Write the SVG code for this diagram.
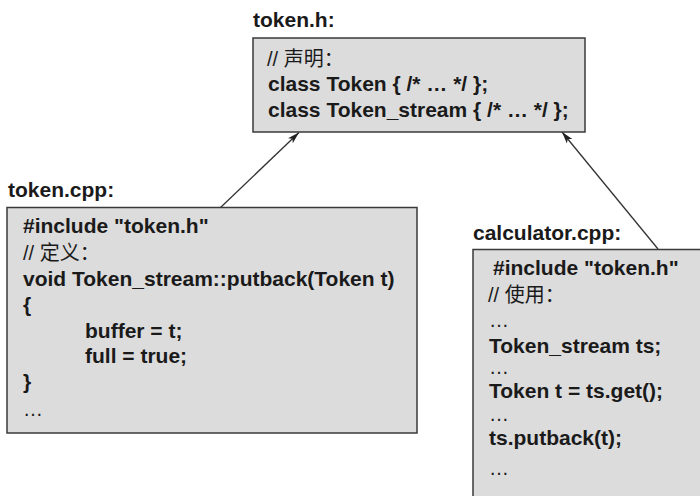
<svg xmlns="http://www.w3.org/2000/svg" width="700" height="496" viewBox="0 0 700 496">
<style>
.box{fill:#dcdcdc;stroke:#3a3a3a;stroke-width:1.5}
.lbl{font-family:"Liberation Sans","Noto Sans CJK SC",sans-serif;font-size:21px;font-weight:bold;fill:#1a1a1a}
.code{font-family:"Liberation Sans","Noto Sans CJK SC",sans-serif;font-size:21px;font-weight:bold;fill:#1a1a1a}
.cmt{font-family:"Liberation Sans","Noto Sans CJK SC",sans-serif;font-size:20px;font-weight:normal;fill:#1a1a1a}
.conn{stroke:#333;stroke-width:1.3;fill:none;marker-end:url(#ah)}
</style>
<defs>
<marker id="ah" viewBox="0 0 12 8" refX="12" refY="4" markerWidth="12" markerHeight="8" markerUnits="userSpaceOnUse" orient="auto">
<path d="M0,0.5 L12,4 L0,7.5 L3,4 Z" fill="#222"/>
</marker>
</defs>
<rect width="700" height="496" fill="#ffffff"/>
<g id="connectors">
<line class="conn" x1="220" y1="208" x2="299" y2="132.5"/>
<line class="conn" x1="658" y1="249" x2="562" y2="132"/>
</g>
<g id="token_h">
<text class="lbl" x="253" y="27">token.h:</text>
<rect class="box" x="253" y="38" width="332" height="94"/>
<text class="cmt" x="267" y="66">// 声明：</text>
<text class="code" x="268" y="91">class Token { /* … */ };</text>
<text class="code" x="268" y="117">class Token_stream { /* … */ };</text>
</g>
<g id="token_cpp">
<text class="lbl" x="8" y="197">token.cpp:</text>
<rect class="box" x="7" y="207.5" width="410" height="225.5"/>
<text class="code" x="23" y="233">#include "token.h"</text>
<text class="cmt" x="23" y="260">// 定义：</text>
<text class="code" x="23" y="286">void Token_stream::putback(Token t)</text>
<text class="code" x="23" y="312">{</text>
<text class="code" x="85" y="338">buffer = t;</text>
<text class="code" x="85" y="363">full = true;</text>
<text class="code" x="23" y="389">}</text>
<text class="cmt" x="23" y="416">…</text>
</g>
<g id="calculator_cpp">
<text class="lbl" x="473" y="240">calculator.cpp:</text>
<rect class="box" x="473" y="249.5" width="240" height="260"/>
<text class="code" x="493" y="275">#include "token.h"</text>
<text class="cmt" x="488" y="302">// 使用：</text>
<text class="cmt" x="489" y="327">…</text>
<text class="code" x="489" y="353">Token_stream ts;</text>
<text class="cmt" x="489" y="374">…</text>
<text class="code" x="489" y="398">Token t = ts.get();</text>
<text class="cmt" x="489" y="421">…</text>
<text class="code" x="489" y="445">ts.putback(t);</text>
<text class="cmt" x="489" y="475">…</text>
</g>
</svg>
